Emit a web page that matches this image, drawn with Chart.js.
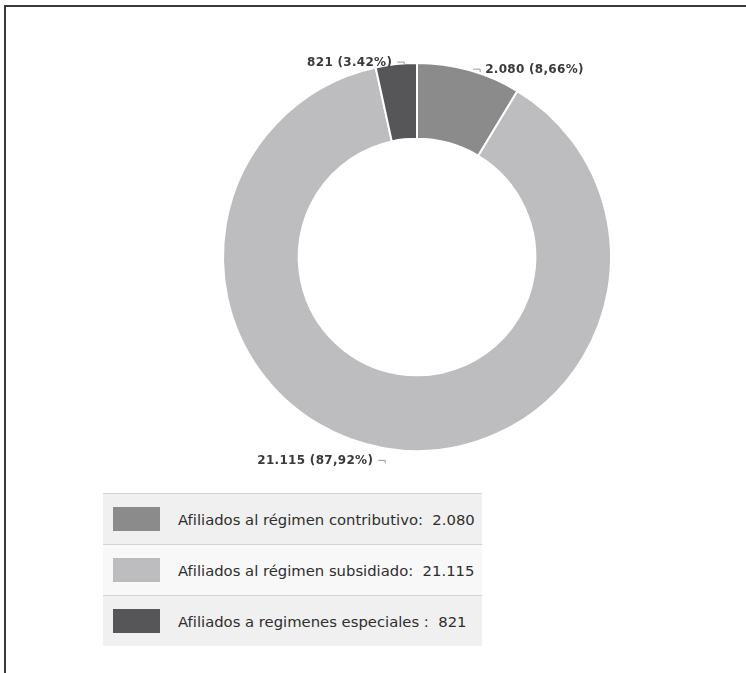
<!DOCTYPE html>
<html lang="es">
<head>
<meta charset="utf-8">
<title>Afiliados por régimen</title>
<script src="https://cdn.jsdelivr.net/npm/chart.js@4/dist/chart.umd.min.js"></script>
<style>
  html, body { margin: 0; padding: 0; background: #fff; }
  #wrap { position: relative; width: 746px; height: 673px; overflow: hidden; }
  #frame {
    position: absolute; left: 4px; top: 5px; right: -4px; bottom: -4px;
    border-top: 2px solid #3a3a3a; border-left: 2px solid #3a3a3a;
  }
  #chart { position: absolute; left: 0; top: 0; }
  #legend {
    position: absolute; left: 103px; top: 493px; width: 379px;
    font-family: "DejaVu Sans", sans-serif;
    font-size: 14.8px; color: #2e2e2e; white-space: nowrap;
  }
  .row {
    height: 50px; display: flex; align-items: center;
    border-top: 1px solid #d4d4d4; background: #f0f0f0;
  }
  .row:nth-child(2) { background: #f8f8f8; }
  .sw { width: 47px; height: 24px; margin: 0 18px 0 10px; flex: none; }
</style>
</head>
<body>
<div id="wrap">
  <div id="frame"></div>
  <canvas id="chart" width="746" height="673"></canvas>
  <div id="legend"></div>
</div>
<script>
// Afiliados según régimen de salud
const categorias = [
  "Afiliados al régimen contributivo:",
  "Afiliados al régimen subsidiado:",
  "Afiliados a regimenes especiales :"
];
const afiliados = [2080, 21115, 821];
const colores = ["#8b8b8c", "#bdbdbf", "#565658"];
// texto de las etiquetas junto al anillo
const etiquetas = ["2.080 (8,66%)", "21.115 (87,92%)", "821 (3.42%)"];
const leyendaValores = ["2.080", "21.115", "821"];

// posición de cada etiqueta respecto al punto medio del arco
const anclas = [
  { dx: 16, dy: 0, align: "left", tick: "left" },
  { dx: -12, dy: 13, align: "right", tick: "right" },
  { dx: -4, dy: -1, align: "right", tick: "right" }
];

const etiquetasPlugin = {
  id: "etiquetasAnillo",
  afterDatasetsDraw(chart) {
    const ctx = chart.ctx;
    const arcs = chart.getDatasetMeta(0).data;
    ctx.save();
    ctx.font = "bold 12px 'DejaVu Sans'";
    ctx.letterSpacing = "0.3px";
    ctx.fillStyle = "#3a3a3a";
    ctx.strokeStyle = "#9a9a9a";
    ctx.lineWidth = 1;
    ctx.textBaseline = "middle";
    arcs.forEach((arc, i) => {
      const p = arc.getProps(["x", "y", "startAngle", "endAngle", "outerRadius"], true);
      const mid = (p.startAngle + p.endAngle) / 2;
      const px = p.x + Math.cos(mid) * p.outerRadius;
      const py = p.y + Math.sin(mid) * p.outerRadius;
      const a = anclas[i];
      const tx = px + a.dx;
      const ty = py + a.dy;
      ctx.textAlign = a.align;
      ctx.fillText(etiquetas[i], tx, ty);
      // pequeño trazo guía
      ctx.beginPath();
      if (a.tick === "left") {
        ctx.moveTo(tx - 5, ty + 2);
        ctx.lineTo(tx - 5, ty - 1);
        ctx.lineTo(tx - 12, ty - 1);
      } else {
        ctx.moveTo(tx + 5, ty - 1);
        ctx.lineTo(tx + 12, ty - 1);
        ctx.lineTo(tx + 12, ty + 2);
      }
      ctx.stroke();
    });
    ctx.restore();
  }
};

new Chart(document.getElementById("chart"), {
  type: "doughnut",
  data: {
    labels: categorias,
    datasets: [{
      data: afiliados,
      backgroundColor: colores,
      borderColor: "#ffffff",
      borderWidth: 2
    }]
  },
  options: {
    responsive: false,
    animation: false,
    cutout: "61%",
    events: [],
    layout: { padding: { left: 222, right: 134, top: 62, bottom: 221 } },
    plugins: {
      legend: { display: false },
      tooltip: { enabled: false }
    }
  },
  plugins: [etiquetasPlugin]
});

// leyenda en recuadro
const leyenda = document.getElementById("legend");
categorias.forEach((c, i) => {
  const row = document.createElement("div");
  row.className = "row";
  row.innerHTML = '<div class="sw" style="background:' + colores[i] + '"></div>' +
    '<span>' + c + '&nbsp; ' + leyendaValores[i] + '</span>';
  leyenda.appendChild(row);
});
</script>
</body>
</html>
